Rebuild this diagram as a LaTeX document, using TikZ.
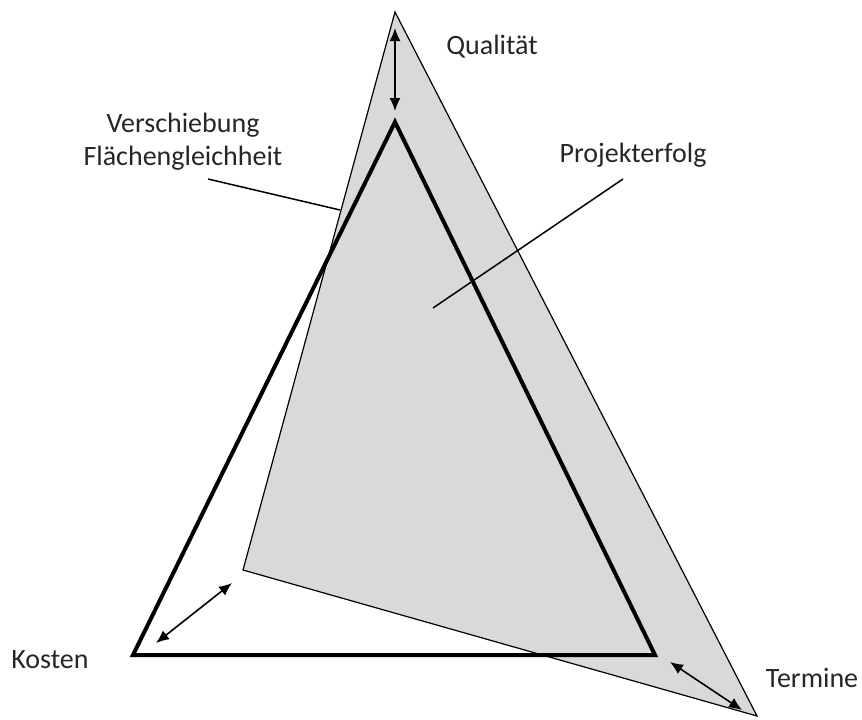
\documentclass[tikz,border=0pt]{standalone}
\usepackage{fontspec}
\setmainfont{Carlito}
\usetikzlibrary{arrows.meta}
\definecolor{areagray}{HTML}{D9D9D9}
\begin{document}
\begin{tikzpicture}[x=1pt,y=-1pt,
  lbl/.style={font=\fontsize{28}{33}\selectfont, text=black!85, inner sep=0pt},
  leader/.style={draw=black, line width=1.5pt},
  dbl/.style={draw=black, line width=1.6pt, {Latex[length=13pt,width=11pt]}-{Latex[length=13pt,width=11pt]}},
  success/.style={fill=areagray, draw=black, line width=1.2pt, line join=miter},
  target/.style={draw=black, line width=4pt, line join=miter}]
\useasboundingbox (0,0) rectangle (862,720);
% shifted triangle (project success)
\coordinate (gq) at (395,12);
\coordinate (gk) at (243,570);
\coordinate (gt) at (757,716);
\path[success] (gq) -- (gt) -- (gk) -- cycle;
% target triangle
\coordinate (tq) at (395,122);
\coordinate (tk) at (133,655);
\coordinate (tt) at (655,655);
\path[target] (tq) -- (tt) -- (tk) -- cycle;
% shift arrows
\coordinate (aq1) at (395,28);
\coordinate (aq2) at (395,111);
\draw[dbl] (aq1) -- (aq2);
\coordinate (ak1) at (156,643);
\coordinate (ak2) at (232,583);
\draw[dbl] (ak1) -- (ak2);
\coordinate (at1) at (670,662);
\coordinate (at2) at (742,710);
\draw[dbl] (at1) -- (at2);
% labels
\node[lbl] (qual) at (492,47) {Qualität};
\node[lbl, align=center] (versch) at (183,142) {Verschiebung\\Flächengleichheit};
\node[lbl] (erfolg) at (633,155) {Projekterfolg};
\node[lbl] (kosten) at (50,660) {Kosten};
\node[lbl] (termine) at (812,678) {Termine};
% leader lines
\coordinate (v1) at (208,179);
\coordinate (v2) at (340,210);
\draw[leader] (v1) -- (v2);
\coordinate (p1) at (623,179);
\coordinate (p2) at (433,308);
\draw[leader] (p1) -- (p2);
\end{tikzpicture}
\end{document}
